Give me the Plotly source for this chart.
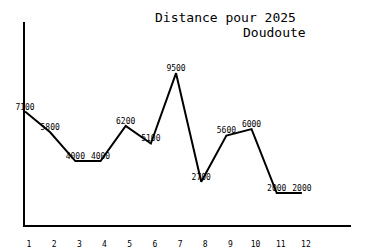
import plotly.graph_objects as go

months = [1, 2, 3, 4, 5, 6, 7, 8, 9, 10, 11, 12]
distances = [7100, 5800, 4000, 4000, 6200, 5100, 9500, 2700, 5600, 6000, 2000, 2000]
tick_labels = [str(m) for m in months]
title_line1 = "Distance pour 2025"
title_line2 = "Doudoute"

mono = "DejaVu Sans Mono"

fig = go.Figure()
fig.add_trace(go.Scatter(
    x=months, y=distances, mode="lines+text",
    text=[str(d) for d in distances], textposition="top center",
    textfont=dict(family=mono, size=8, color="black"),
    line=dict(color="black", width=2),
    cliponaxis=False, showlegend=False,
))

fig.update_layout(
    width=375, height=250,
    margin=dict(l=25, r=24, t=22, b=25, autoexpand=False),
    paper_bgcolor="white", plot_bgcolor="white",
    xaxis=dict(range=[1, 13.95], showgrid=False, zeroline=False, automargin=False,
               showline=True, linecolor="black", linewidth=2,
               tickvals=months, ticktext=tick_labels, ticks="",
               ticklabelshift=4, ticklabelstandoff=10,
               tickfont=dict(family=mono, size=8, color="black")),
    yaxis=dict(range=[0, 12700], showgrid=False, zeroline=False, automargin=False,
               showline=True, linecolor="black", linewidth=2,
               showticklabels=False, ticks=""),
    annotations=[
        dict(text=title_line1, xref="paper", yref="paper", x=(298 - 25) / 326, y=1,
             xanchor="right", yanchor="bottom", yshift=-5, showarrow=False,
             font=dict(family=mono, size=13, color="black")),
        dict(text=title_line2, xref="paper", yref="paper", x=(308 - 25) / 326, y=1,
             xanchor="right", yanchor="bottom", yshift=-20, showarrow=False,
             font=dict(family=mono, size=13, color="black")),
    ],
)
fig.write_html("out.html")
